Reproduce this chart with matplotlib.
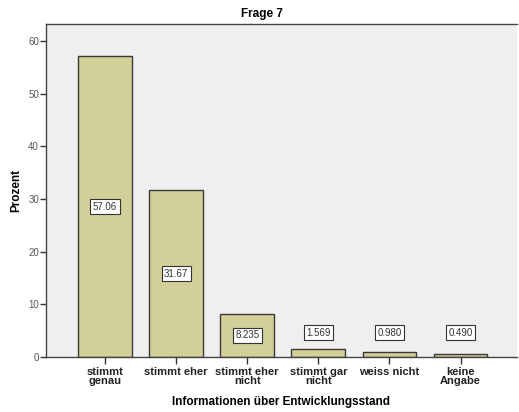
import matplotlib.pyplot as plt

plt.rcParams['font.family'] = ['Liberation Sans', 'DejaVu Sans']

# Daten aus dem Diagramm "Frage 7"
kategorien = ["stimmt\ngenau", "stimmt eher", "stimmt eher\nnicht",
              "stimmt gar\nnicht", "weiss nicht", "keine\nAngabe"]
prozent = [57.06, 31.67, 8.235, 1.569, 0.980, 0.490]
beschriftung = ["57.06", "31.67", "8.235", "1.569", "0.980", "0.490"]

fig = plt.figure(figsize=(5.19, 4.12), dpi=100)
ax = fig.add_axes([0.0886, 0.1335, 0.907, 0.808])
ax.set_facecolor("#efefef")

x = list(range(len(kategorien)))
ax.bar(x, prozent, width=0.755, color="#d3cf98", edgecolor="#3a3a3a", linewidth=1.0)

# Wertelabels: in der Balkenmitte, bei kleinen Balken darüber
for xi, v, txt in zip(x, prozent, beschriftung):
    y = v / 2 if v > 9 else max(v / 2, 3.7) if v > 5 else 4.6
    ax.text(xi, y, txt, ha="center", va="center", fontsize=7, color="#333333",
            bbox=dict(boxstyle="square,pad=0.25", facecolor="white", edgecolor="#333333", linewidth=0.8))

ax.set_xlim(-0.83, 5.79)
ax.set_ylim(0, 63.2)
ax.set_yticks([0, 10, 20, 30, 40, 50, 60])
ax.set_xticks(x)
ax.set_xticklabels(kategorien, fontsize=8, fontweight="bold", color="#222222", linespacing=0.95)
ax.tick_params(axis="y", labelsize=7, labelcolor="#555555", length=4, width=1, color="#333333", pad=1)
ax.tick_params(axis="x", length=5, width=1, color="#333333", pad=2)

for s in ["left", "top", "bottom"]:
    ax.spines[s].set_color("#444444")
    ax.spines[s].set_linewidth(1.0)
ax.spines["right"].set_visible(False)

ax.set_title("Frage 7", fontsize=8.5, fontweight="bold", pad=5, x=0.459)
ax.set_ylabel("Prozent", fontsize=8.5, fontweight="bold", labelpad=4)
ax.set_xlabel("Informationen über Entwicklungsstand", fontsize=8.5, fontweight="bold", labelpad=7)

fig.savefig("out.png", dpi=100)
